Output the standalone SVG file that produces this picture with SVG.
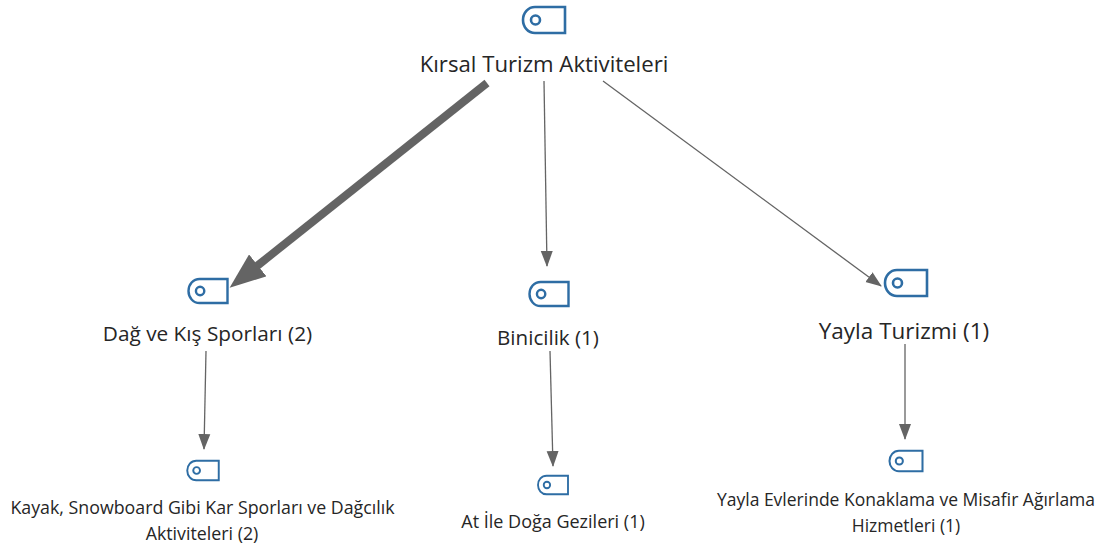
<svg xmlns="http://www.w3.org/2000/svg" width="1100" height="546" viewBox="0 0 1100 546">
<style>
text{font-family:"Open Sans","Noto Sans","Liberation Sans",sans-serif;fill:#262626;text-anchor:middle}
.c{fill:none;stroke:#646464;stroke-width:1.3}
.i{fill:none;stroke:#2e6da4;stroke-width:2.6}
</style>
<defs>
<marker id="a" markerUnits="userSpaceOnUse" markerWidth="16" markerHeight="20" refX="15" refY="6" orient="auto" viewBox="0 0 16 12"><path d="M0 0L16 6L0 12Z" fill="#646464"/></marker>
<marker id="b" markerUnits="userSpaceOnUse" markerWidth="36" markerHeight="28" refX="1" refY="14" orient="auto" viewBox="0 0 36 28"><path d="M0 0L36 14L0 28Z" fill="#646464"/></marker>
<symbol id="tag" viewBox="0 0 44 28" overflow="visible"><path class="i" d="M43 1H13C6 1 1 7 1 14S6 27 13 27H43Z"/><circle class="i" cx="13.500" cy="14" r="4.500"/></symbol>
</defs>
<g id="connectors">
<path d="M487 83L257 266" fill="none" stroke="#646464" stroke-width="8" marker-end="url(#b)"/>
<path class="c" d="M544 81L547 266" marker-end="url(#a)"/>
<path class="c" d="M603 81L881 286" marker-end="url(#a)"/>
<path class="c" d="M206 351L204 449" marker-end="url(#a)"/>
<path class="c" d="M550 351L553 466" marker-end="url(#a)"/>
<path class="c" d="M905 344L905 439" marker-end="url(#a)"/>
</g>
<g id="n1"><use href="#tag" x="522" y="6" width="44" height="28"/><text x="544" y="72" font-size="22.200">Kırsal Turizm Aktiviteleri</text></g>
<g id="n2"><use href="#tag" x="187" y="278" width="42" height="26"/><text x="207.500" y="341" font-size="20.800">Dağ ve Kış Sporları (2)</text></g>
<g id="n3"><use href="#tag" x="528" y="281" width="42" height="26"/><text x="548" y="345" font-size="20.600">Binicilik (1)</text></g>
<g id="n4"><use href="#tag" x="884" y="269" width="44" height="28"/><text x="904" y="339" font-size="22.500">Yayla Turizmi (1)</text></g>
<g id="n5"><use href="#tag" x="185" y="460" width="36" height="21"/><text x="202.500" y="514" font-size="17.800">Kayak, Snowboard Gibi Kar Sporları ve Dağcılık</text><text x="202" y="540" font-size="17.800">Aktiviteleri (2)</text></g>
<g id="n6"><use href="#tag" x="536" y="475" width="34" height="20"/><text x="553" y="528" font-size="18">At İle Doğa Gezileri (1)</text></g>
<g id="n7"><use href="#tag" x="888" y="450" width="36" height="22"/><text x="906" y="506" font-size="17.500">Yayla Evlerinde Konaklama ve Misafir Ağırlama</text><text x="906" y="532" font-size="17.500">Hizmetleri (1)</text></g>
</svg>
